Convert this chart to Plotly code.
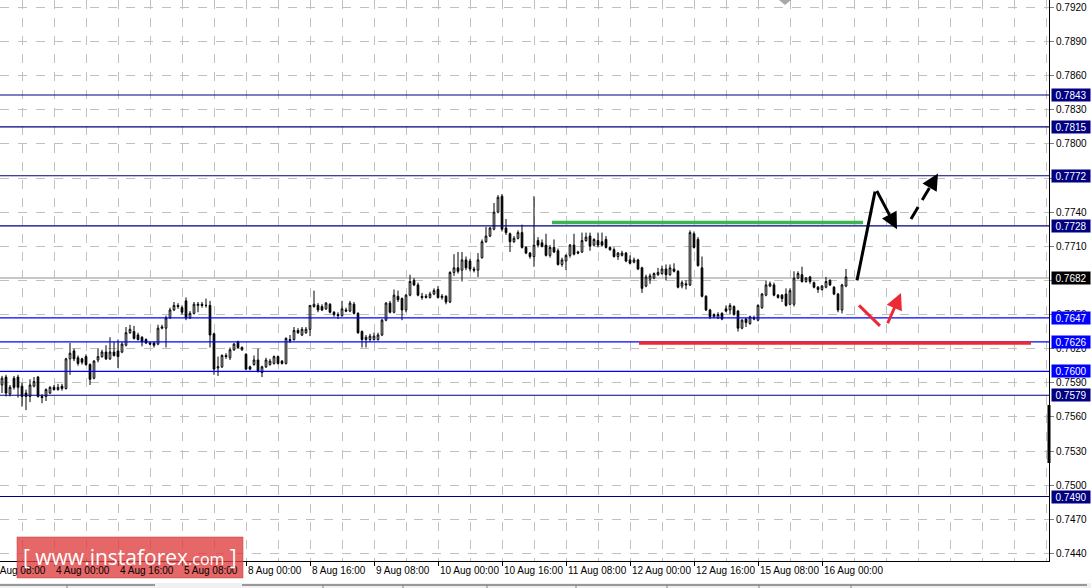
import plotly.graph_objects as go

# ---------------- data ----------------
bar_index = list(range(-61, 151))  # H1 bars, 0 = 8 Aug 00:00

opens = [
.7588,.7595,.7580,.7594,.7595,.7587,.7581,.7578,.7587,.7595,.7578,.7578,.7581,.7586,.7584,.7587,
.7585,.7611,.7618,.7612,.7611,.7613,.7606,.7594,.7610,.7613,.7617,.7611,.7617,.7618,.7617,.7623,
.7634,.7635,.7632,.7630,.7628,.7625,.7625,.7624,.7638,.7638,.7647,.7654,.7658,.7656,.7662,.7647,
.7651,.7658,.7659,.7658,.7658,.7633,.7603,.7604,.7614,.7612,.7619,.7626,.7619,
.7615,.7604,.7606,.7610,.7599,.7604,.7606,.7607,.7613,.7609,.7607,.7628,.7628,.7636,
.7632,.7634,.7637,.7657,.7658,.7657,.7655,.7659,.7652,.7650,.7649,.7654,.7653,.7659,.7651,.7635,
.7628,.7628,.7628,.7628,.7632,.7645,.7660,.7652,.7666,.7664,.7654,.7667,.7680,.7676,.7666,.7665,
.7665,.7668,.7672,.7665,.7666,.7661,.7687,.7691,.7689,.7698,.7697,.7690,.7689,.7700,.7714,.7719,
.7725,.7740,.7754,.7726,.7721,.7714,.7717,.7722,.7709,.7704,.7701,.7715,.7713,.7711,.7702,.7709,
.7706,.7694,.7697,.7702,.7711,.7705,.7705,.7715,.7719,.7711,.7715,.7714,.7716,.7709,.7707,.7701,
.7702,.7704,.7698,.7696,.7698,.7691,.7675,.7681,.7682,.7685,.7686,.7690,.7685,.7690,.7688,.7675,
.7677,.7676,.7721,.7716,.7691,.7666,.7654,.7648,.7647,.7651,
.7655,.7654,.7657,.7653,.7638,.7646,.7642,.7646,.7645,.7656,.7667,.7675,.7676,.7667,.7667,.7668,
.7659,.7659,.7682,.7685,.7679,.7683,.7678,.7674,.7672,.7674,.7680,.7674,.7668,.7654,.7675]

highs = [
.7596,.7597,.7588,.7596,.7597,.7590,.7584,.7593,.7595,.7596,.7580,.7585,.7587,.7588,.7589,.7589,
.7612,.7625,.7620,.7614,.7612,.7615,.7607,.7610,.7620,.7619,.7623,.7630,.7626,.7628,.7626,.7639,
.7641,.7640,.7634,.7631,.7629,.7626,.7626,.7641,.7641,.7649,.7656,.7661,.7660,.7658,.7665,.7653,
.7661,.7661,.7661,.7664,.7662,.7634,.7613,.7615,.7616,.7621,.7625,.7627,.7622,
.7616,.7605,.7614,.7620,.7605,.7612,.7611,.7614,.7614,.7610,.7630,.7632,.7639,.7638,
.7639,.7639,.7658,.7671,.7660,.7659,.7661,.7660,.7653,.7652,.7662,.7656,.7662,.7661,.7652,.7636,
.7632,.7633,.7634,.7634,.7646,.7661,.7662,.7672,.7671,.7665,.7668,.7685,.7682,.7678,.7669,.7668,
.7670,.7673,.7675,.7668,.7667,.7688,.7703,.7705,.7705,.7701,.7699,.7692,.7704,.7716,.7727,.7727,
.7748,.7755,.7756,.7734,.7722,.7719,.7724,.7729,.7710,.7705,.7754,.7718,.7716,.7721,.7711,.7716,
.7708,.7700,.7703,.7712,.7721,.7706,.7722,.7722,.7722,.7717,.7722,.7722,.7719,.7710,.7709,.7705,
.7706,.7705,.7702,.7700,.7699,.7692,.7685,.7686,.7687,.7691,.7693,.7694,.7694,.7695,.7689,.7680,
.7680,.7724,.7723,.7718,.7701,.7667,.7655,.7651,.7652,.7652,
.7658,.7660,.7658,.7654,.7646,.7647,.7649,.7649,.7659,.7669,.7680,.7679,.7678,.7668,.7668,.7673,
.7673,.7688,.7688,.7692,.7683,.7684,.7679,.7675,.7676,.7683,.7681,.7675,.7669,.7677,.7690]

lows = [
.7581,.7578,.7578,.7584,.7577,.7569,.7566,.7573,.7586,.7577,.7572,.7574,.7580,.7583,.7583,.7583,
.7584,.7597,.7609,.7605,.7606,.7605,.7588,.7593,.7608,.7612,.7610,.7610,.7613,.7603,.7616,.7622,
.7633,.7628,.7627,.7622,.7624,.7623,.7621,.7623,.7637,.7621,.7646,.7653,.7655,.7650,.7645,.7646,
.7650,.7652,.7656,.7656,.7621,.7597,.7596,.7603,.7611,.7610,.7618,.7620,.7618,
.7601,.7601,.7605,.7599,.7595,.7603,.7605,.7606,.7606,.7606,.7606,.7625,.7627,.7633,
.7631,.7633,.7631,.7656,.7652,.7653,.7654,.7651,.7648,.7646,.7648,.7652,.7652,.7650,.7633,.7621,
.7621,.7626,.7627,.7627,.7631,.7644,.7651,.7651,.7661,.7645,.7652,.7666,.7675,.7666,.7663,.7664,
.7664,.7667,.7664,.7663,.7659,.7660,.7684,.7686,.7679,.7689,.7688,.7687,.7683,.7699,.7713,.7718,
.7724,.7739,.7723,.7720,.7705,.7713,.7716,.7708,.7703,.7699,.7692,.7709,.7709,.7701,.7700,.7704,
.7693,.7692,.7689,.7700,.7702,.7703,.7704,.7714,.7706,.7710,.7709,.7710,.7708,.7706,.7700,.7698,
.7701,.7696,.7694,.7695,.7689,.7669,.7674,.7677,.7681,.7684,.7685,.7680,.7684,.7687,.7673,.7673,
.7672,.7675,.7708,.7692,.7665,.7653,.7646,.7647,.7646,.7645,
.7652,.7650,.7649,.7635,.7637,.7639,.7641,.7645,.7644,.7655,.7666,.7674,.7666,.7664,.7661,.7657,
.7658,.7657,.7681,.7678,.7678,.7677,.7673,.7669,.7671,.7673,.7675,.7667,.7652,.7651,.7674]

closes = [
.7594,.7581,.7586,.7586,.7586,.7578,.7578,.7588,.7591,.7578,.7577,.7584,.7586,.7584,.7586,.7585,
.7611,.7616,.7611,.7607,.7608,.7606,.7593,.7609,.7613,.7617,.7611,.7617,.7614,.7613,.7624,.7634,
.7637,.7629,.7628,.7626,.7625,.7624,.7623,.7638,.7639,.7647,.7654,.7658,.7657,.7652,.7647,.7651,
.7659,.7659,.7658,.7658,.7632,.7602,.7604,.7614,.7613,.7619,.7624,.7621,.7621,
.7602,.7602,.7610,.7600,.7604,.7610,.7609,.7613,.7607,.7607,.7629,.7627,.7636,.7634,
.7637,.7637,.7658,.7659,.7654,.7654,.7660,.7652,.7650,.7649,.7655,.7653,.7660,.7651,.7634,.7628,
.7630,.7631,.7631,.7632,.7645,.7660,.7652,.7667,.7663,.7654,.7667,.7679,.7676,.7667,.7665,.7666,
.7668,.7671,.7665,.7666,.7661,.7687,.7691,.7688,.7698,.7691,.7690,.7689,.7698,.7714,.7719,.7726,
.7740,.7753,.7725,.7722,.7714,.7717,.7722,.7709,.7704,.7701,.7711,.7711,.7710,.7702,.7709,.7705,
.7694,.7698,.7702,.7711,.7703,.7704,.7715,.7718,.7710,.7716,.7711,.7711,.7709,.7707,.7701,.7704,
.7704,.7697,.7695,.7698,.7690,.7673,.7683,.7684,.7686,.7687,.7690,.7685,.7691,.7688,.7674,.7678,
.7676,.7722,.7709,.7693,.7666,.7654,.7648,.7650,.7650,.7646,
.7653,.7658,.7650,.7638,.7645,.7643,.7648,.7647,.7658,.7668,.7676,.7677,.7667,.7665,.7664,.7658,
.7671,.7682,.7686,.7679,.7682,.7679,.7674,.7672,.7675,.7679,.7676,.7668,.7654,.7676,.7683]

x_tick_pos = [-64, -48, -32, -16, 0, 16, 32, 48, 64, 80, 96, 112, 128, 144]
x_tick_text = ["3 Aug 08:00", "4 Aug 00:00", "4 Aug 16:00", "5 Aug 08:00", "8 Aug 00:00",
               "8 Aug 16:00", "9 Aug 08:00", "10 Aug 00:00", "10 Aug 16:00", "11 Aug 08:00",
               "12 Aug 00:00", "12 Aug 16:00", "15 Aug 08:00", "16 Aug 00:00"]

y_tick_vals = [0.7440, 0.7470, 0.7500, 0.7530, 0.7560, 0.7590, 0.7620, 0.7650, 0.7680,
               0.7710, 0.7740, 0.7770, 0.7800, 0.7830, 0.7860, 0.7890, 0.7920]

level_values = [0.7843, 0.7815, 0.7772, 0.7728, 0.7647, 0.7626, 0.7600, 0.7579, 0.7490]
level_colors = ["#000080", "#000080", "#000080", "#000080", "#0000FF", "#0000FF", "#0000FF",
                "#000080", "#000080"]
bid_price = 0.7682

resistance_x = [76.5, 154.25]
resistance_y = 0.7731
support_x = [98.25, 196.25]
support_y = 0.7625

bull_leg_x = [152.75, 157.25]
bull_leg_y = [0.7680, 0.7758]
pullback_x = [157.5, 162.75]
pullback_y = [0.7760, 0.7725]
breakout_x = [166.25, 173.0]
breakout_y = [0.7734, 0.7774]
bear_leg_x = [153.25, 158.5]
bear_leg_y = [0.7658, 0.7640]
rebound_x = [160.25, 163.75]
rebound_y = [0.7641, 0.7669]

X_RANGE = [-61.5, 200.75]
Y_RANGE = [0.74333, 0.79265]

FONT = "Liberation Sans"
PLOT_W = 1049.0  # plot-area width in px (for paper coords)
PLOT_H = 561.0

# ---------------- figure ----------------
fig = go.Figure()
fig.add_trace(go.Candlestick(
    x=bar_index, open=opens, high=highs, low=lows, close=closes,
    increasing=dict(line=dict(color="black", width=1), fillcolor="white"),
    decreasing=dict(line=dict(color="black", width=1), fillcolor="black"),
    whiskerwidth=0, showlegend=False, hoverinfo="skip"))

shapes = []
annotations = []

# bid line
shapes.append(dict(type="line", xref="paper", x0=0, x1=1, yref="y", y0=bid_price, y1=bid_price,
                   line=dict(color="#b4b4b4", width=1.5), layer="below"))
# level lines
for v, c in zip(level_values, level_colors):
    shapes.append(dict(type="line", xref="paper", x0=0, x1=1, yref="y", y0=v, y1=v,
                       line=dict(color=c, width=1.2), layer="above"))

# resistance / support drawn lines
shapes.append(dict(type="line", x0=resistance_x[0], x1=resistance_x[1], y0=resistance_y, y1=resistance_y,
                   line=dict(color="#3cb54e", width=3.5), layer="above"))
shapes.append(dict(type="line", x0=support_x[0], x1=support_x[1], y0=support_y, y1=support_y,
                   line=dict(color="#ec2a35", width=3.5), layer="above"))

# forecast: black legs
shapes.append(dict(type="line", x0=bull_leg_x[0], x1=bull_leg_x[1], y0=bull_leg_y[0], y1=bull_leg_y[1],
                   line=dict(color="black", width=3)))
annotations.append(dict(x=pullback_x[1], y=pullback_y[1], ax=pullback_x[0], ay=pullback_y[0],
                        xref="x", yref="y", axref="x", ayref="y", text="", showarrow=True,
                        arrowhead=2, arrowsize=1.1, arrowwidth=3, arrowcolor="black", standoff=0))
shapes.append(dict(type="line", x0=breakout_x[0], x1=breakout_x[0] + 0.8 * (breakout_x[1] - breakout_x[0]),
                   y0=breakout_y[0], y1=breakout_y[0] + 0.8 * (breakout_y[1] - breakout_y[0]),
                   line=dict(color="black", width=3, dash="14px,8px")))
annotations.append(dict(x=breakout_x[1], y=breakout_y[1],
                        ax=breakout_x[0] + 0.75 * (breakout_x[1] - breakout_x[0]),
                        ay=breakout_y[0] + 0.75 * (breakout_y[1] - breakout_y[0]),
                        xref="x", yref="y", axref="x", ayref="y", text="", showarrow=True,
                        arrowhead=2, arrowsize=1.1, arrowwidth=3, arrowcolor="black", standoff=0))
# forecast: red legs
shapes.append(dict(type="line", x0=bear_leg_x[0], x1=bear_leg_x[1], y0=bear_leg_y[0], y1=bear_leg_y[1],
                   line=dict(color="#ec2a35", width=3)))
annotations.append(dict(x=rebound_x[1], y=rebound_y[1], ax=rebound_x[0], ay=rebound_y[0],
                        xref="x", yref="y", axref="x", ayref="y", text="", showarrow=True,
                        arrowhead=2, arrowsize=1.1, arrowwidth=3, arrowcolor="#ec2a35", standoff=0))

# level price boxes on the right axis
for v, c in zip(level_values, level_colors):
    annotations.append(dict(x=1, xref="paper", xanchor="left", xshift=2, y=v, yref="y",
                            text=f"{v:.4f}", showarrow=False, bgcolor=c, width=38, height=12,
                            font=dict(family=FONT, size=10, color="white"), borderpad=0))
annotations.append(dict(x=1, xref="paper", xanchor="left", xshift=2, y=bid_price, yref="y",
                        text=f"{bid_price:.4f}", showarrow=False, bgcolor="black", width=38, height=12,
                        font=dict(family=FONT, size=10, color="white"), borderpad=0))

# time labels (left-aligned at tick like MT4); paper coords so the clipped first one still shows
span = X_RANGE[1] - X_RANGE[0]
for p, t in zip(x_tick_pos, x_tick_text):
    annotations.append(dict(x=(p - X_RANGE[0]) / span, xref="paper", y=0, yref="paper",
                            yanchor="top", xanchor="left", xshift=0, yshift=-2, text=t,
                            showarrow=False, font=dict(family=FONT, size=10, color="black")))

# right axis thick marker
shapes.append(dict(type="line", xref="paper", x0=1, x1=1, yref="paper",
                   y0=(PLOT_H - 463) / PLOT_H, y1=(PLOT_H - 405) / PLOT_H, line=dict(color="black", width=3)))
# chart shift marker
shapes.append(dict(type="path", xref="paper", yref="paper",
                   path=f"M {779/PLOT_W} 1 L {791/PLOT_W} 1 L {785/PLOT_W} {1-5/PLOT_H} Z",
                   fillcolor="#a8a8a8", line=dict(width=0)))

# bottom tab strip
shapes.append(dict(type="rect", xref="paper", yref="paper", x0=0, x1=1091 / PLOT_W,
                   y0=-(588 - PLOT_H) / PLOT_H - 0.01, y1=-(583 - PLOT_H) / PLOT_H,
                   fillcolor="#f0f0f0", line=dict(width=0), layer="below"))
for a, b in [(0, 155), (242, 1087)]:
    shapes.append(dict(type="line", xref="paper", yref="paper", x0=a / PLOT_W, x1=b / PLOT_W,
                       y0=-(585 - PLOT_H) / PLOT_H, y1=-(585 - PLOT_H) / PLOT_H,
                       line=dict(color="#404040", width=1)))
for d in [67, 323, 403, 487, 576, 667, 759, 851]:
    shapes.append(dict(type="line", xref="paper", yref="paper", x0=d / PLOT_W, x1=d / PLOT_W,
                       y0=-(585 - PLOT_H) / PLOT_H, y1=-(588 - PLOT_H) / PLOT_H,
                       line=dict(color="#808080", width=1)))

# watermark
shapes.append(dict(type="rect", xref="paper", yref="paper", x0=17 / PLOT_W, x1=243 / PLOT_W,
                   y0=-(578 - PLOT_H) / PLOT_H, y1=(PLOT_H - 537) / PLOT_H,
                   fillcolor="rgba(222,60,60,0.78)", line=dict(color="rgba(200,60,60,0.5)", width=1),
                   layer="above"))
annotations.append(dict(x=130 / PLOT_W, xref="paper", y=(PLOT_H - 557) / PLOT_H, yref="paper",
                        text="[ www.instaforex<span style='font-size:16px'>.com</span> ]",
                        showarrow=False, xanchor="center", yanchor="middle",
                        font=dict(family="Open Sans", size=21, color="white")))

fig.update_layout(
    width=1091, height=588, autosize=False,
    margin=dict(l=0, r=42, t=0, b=27, pad=0),
    paper_bgcolor="white", plot_bgcolor="white",
    showlegend=False, boxgap=0.4,
    shapes=shapes, annotations=annotations,
    xaxis=dict(range=X_RANGE, rangeslider=dict(visible=False), showline=True, linecolor="black",
               linewidth=1, tickvals=x_tick_pos, showticklabels=False, ticks="outside",
               ticklen=4, tickcolor="black", showgrid=True, gridcolor="#c0c0c0", griddash="dash",
               gridwidth=1, zeroline=False,
               minor=dict(dtick=8, tick0=0, showgrid=True, gridcolor="#c0c0c0", griddash="dash",
                          ticklen=0)),
    yaxis=dict(range=Y_RANGE, side="right", showline=True, linecolor="black", linewidth=1,
               tickvals=y_tick_vals, ticktext=[f"{v:.4f}" for v in y_tick_vals],
               ticks="outside", ticklen=4, tickcolor="#808080",
               tickfont=dict(family=FONT, size=10, color="black"),
               showgrid=True, gridcolor="#c0c0c0", griddash="dash", gridwidth=1, zeroline=False),
)

fig.write_html("out.html", config={"displayModeBar": False},
               post_script="document.body.style.margin='0px';document.body.style.overflow='hidden';")
